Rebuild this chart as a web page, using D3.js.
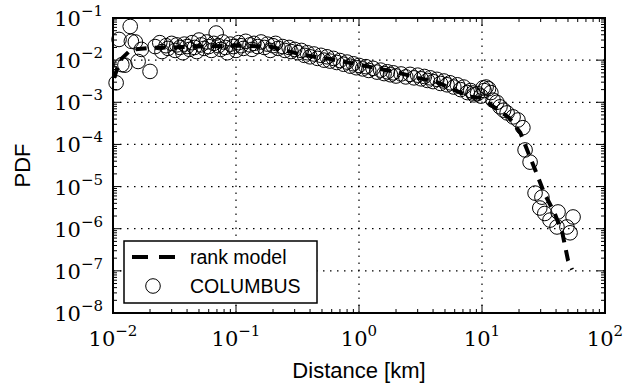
<!DOCTYPE html>
<html>
<head>
<meta charset="utf-8">
<script src="https://cdn.jsdelivr.net/npm/d3@7"></script>
<style>
  body { margin: 0; background: #fff; }
  svg { display: block; }
</style>
</head>
<body>
<svg id="chart" width="623" height="387"></svg>
<script>
// rank model curve (km, PDF)
const modelX = [0.0102, 0.0108, 0.0118, 0.0135, 0.0148, 0.02, 0.03, 0.05, 0.1, 0.19, 0.34, 0.6, 1.0, 2.0, 3.0, 4.3, 7.8, 10, 12.3, 16.6, 20.5, 23.8, 27.7, 32, 39, 45, 50, 54];
const modelY = [0.0038, 0.0062, 0.011, 0.016, 0.018, 0.0195, 0.02, 0.021, 0.022, 0.021, 0.0135, 0.0105, 0.0078, 0.0052, 0.0038, 0.0030, 0.00138, 0.00126, 0.00080, 0.00043, 0.00019, 6.3e-5, 2.1e-5, 7.1e-6, 2.3e-6, 8e-7, 1.8e-7, 1.07e-7];

// COLUMBUS data (km, PDF)
const dataX = [0.0106, 0.0112, 0.0118, 0.0125, 0.0138, 0.0141, 0.0152, 0.016, 0.017, 0.020,
  0.022, 0.024, 0.025, 0.027, 0.028, 0.030, 0.032, 0.033, 0.035, 0.037, 0.038, 0.040, 0.042, 0.044, 0.046, 0.048,
  0.050, 0.052, 0.055, 0.058, 0.060, 0.063, 0.066, 0.069, 0.072, 0.075, 0.078, 0.082, 0.085, 0.090, 0.095,
  0.100, 0.105, 0.11, 0.115, 0.12, 0.13, 0.135, 0.14, 0.15, 0.16, 0.17, 0.18, 0.19, 0.20, 0.21, 0.22,
  0.24, 0.25, 0.27, 0.28, 0.30, 0.32, 0.34, 0.36, 0.38, 0.40, 0.43, 0.46, 0.49, 0.52, 0.55, 0.58, 0.62,
  0.66, 0.70, 0.75, 0.80, 0.85, 0.90, 0.95, 1.0, 1.07, 1.14, 1.2, 1.3, 1.4, 1.5, 1.6, 1.7, 1.8, 1.9,
  2.0, 2.2, 2.4, 2.6, 2.8, 3.0, 3.2, 3.4, 3.6, 3.8, 4.0, 4.3, 4.6, 4.9, 5.2, 5.5, 5.9, 6.3, 6.7, 7.1,
  7.6, 8.1, 8.45, 8.6, 9.2, 9.8, 10.2, 10.4, 10.8, 11.3, 11.8, 12.3, 13.2, 14, 15, 16, 17.9, 19.6, 21.5,
  22.4, 24.6, 27, 29.5, 30.7, 32.4, 35.7, 40.7, 41.5, 49, 52, 55];
const dataY = [0.0029, 0.031, 0.0078, 0.0076, 0.063, 0.028, 0.027, 0.0093, 0.018, 0.0054,
  0.021, 0.026, 0.016, 0.022, 0.019, 0.025, 0.017, 0.023, 0.020, 0.015, 0.024, 0.021, 0.018, 0.026, 0.020, 0.016,
  0.030, 0.023, 0.019, 0.027, 0.021, 0.017, 0.025, 0.044, 0.022, 0.018, 0.027, 0.020, 0.015, 0.024, 0.021,
  0.017, 0.026, 0.022, 0.019, 0.028, 0.023, 0.018, 0.025, 0.021, 0.027, 0.020, 0.024, 0.017, 0.022, 0.025, 0.019,
  0.021, 0.017, 0.020, 0.016, 0.018, 0.015, 0.017, 0.013, 0.015, 0.012, 0.014, 0.011, 0.013, 0.010, 0.012, 0.0095, 0.011,
  0.0088, 0.0098, 0.0080, 0.0090, 0.0072, 0.0082, 0.0066, 0.0075, 0.0062, 0.0070, 0.0057, 0.0064, 0.0052, 0.0058, 0.0048, 0.0053, 0.0045, 0.0050,
  0.0042, 0.0047, 0.0040, 0.0046, 0.0038, 0.0044, 0.0036, 0.0041, 0.0033, 0.0038, 0.0031, 0.0035, 0.0028, 0.0032, 0.0026, 0.0029, 0.0023, 0.0026, 0.0020, 0.0023,
  0.0017, 0.0019, 0.00166, 0.0015, 0.0016, 0.0014, 0.0022, 0.0019, 0.0023, 0.0021, 0.0017, 0.00112, 0.0010, 7.8e-4, 6.5e-4, 5.6e-4, 4.5e-4, 3.8e-4, 2.5e-4,
  7.4e-5, 3.8e-5, 7e-6, 3.1e-6, 5.6e-6, 2.3e-6, 1.6e-6, 1.1e-6, 2.5e-6, 1.1e-6, 8e-7, 1.9e-6];

const xTickExp = [-2, -1, 0, 1, 2];
const yTickExp = [-8, -7, -6, -5, -4, -3, -2, -1];
const legendLabels = ["rank model", "COLUMBUS"];

const svg = d3.select("#chart");
const margin = { left: 113, top: 18, right: 18, bottom: 74 };
const W = 623, H = 387;
const x = d3.scaleLog().domain([1e-2, 1e2]).range([margin.left, W - margin.right]);
const y = d3.scaleLog().domain([1e-8, 1e-1]).range([H - margin.bottom, margin.top]);

const serif = "'DejaVu Serif', serif";
const sans = "'Liberation Sans', Arial, sans-serif";

// grid
const grid = svg.append("g")
    .attr("stroke", "#000")
    .attr("stroke-width", 1.2)
    .attr("stroke-dasharray", "1.5,5.5");
grid.selectAll("line.gx")
    .data(xTickExp.slice(1, -1))
    .join("line")
    .attr("class", "gx")
    .attr("x1", d => x(10 ** d)).attr("x2", d => x(10 ** d))
    .attr("y1", y.range()[0]).attr("y2", y.range()[1]);
grid.selectAll("line.gy")
    .data(yTickExp.slice(1, -1))
    .join("line")
    .attr("class", "gy")
    .attr("y1", d => y(10 ** d)).attr("y2", d => y(10 ** d))
    .attr("x1", x.range()[0]).attr("x2", x.range()[1]);

// ticks, inside on all four sides
const xMinor = [], yMinor = [];
for (let e = -2; e < 2; e++) for (let m = 2; m < 10; m++) xMinor.push(m * 10 ** e);
for (let e = -8; e < -1; e++) for (let m = 2; m < 10; m++) yMinor.push(m * 10 ** e);

const ticks = svg.append("g").attr("stroke", "#000").attr("stroke-width", 1);
const [yb, yt] = y.range(), [xl, xr] = x.range();
function xt(vals, len) {
    vals.forEach(v => {
        ticks.append("line").attr("x1", x(v)).attr("x2", x(v)).attr("y1", yb).attr("y2", yb - len);
        ticks.append("line").attr("x1", x(v)).attr("x2", x(v)).attr("y1", yt).attr("y2", yt + len);
    });
}
function yt_(vals, len) {
    vals.forEach(v => {
        ticks.append("line").attr("y1", y(v)).attr("y2", y(v)).attr("x1", xl).attr("x2", xl + len);
        ticks.append("line").attr("y1", y(v)).attr("y2", y(v)).attr("x1", xr).attr("x2", xr - len);
    });
}
xt(xTickExp.map(e => 10 ** e), 8);
xt(xMinor, 4);
yt_(yTickExp.map(e => 10 ** e), 8);
yt_(yMinor, 4);

// model line
const line = d3.line().x((d, i) => x(modelX[i])).y((d, i) => y(modelY[i]));
svg.append("path")
    .datum(modelX)
    .attr("d", line)
    .attr("fill", "none")
    .attr("stroke", "#000")
    .attr("stroke-width", 4)
    .attr("stroke-dasharray", "11,8");

// data circles
svg.append("g")
    .selectAll("circle")
    .data(dataX)
    .join("circle")
    .attr("cx", (d, i) => x(dataX[i]))
    .attr("cy", (d, i) => y(dataY[i]))
    .attr("r", 7.3)
    .attr("fill", "none")
    .attr("stroke", "#000")
    .attr("stroke-width", 1);

// frame
svg.append("rect")
    .attr("x", xl).attr("y", yt)
    .attr("width", xr - xl).attr("height", yb - yt)
    .attr("fill", "none").attr("stroke", "#000").attr("stroke-width", 2);

// tick labels
function powLabel(sel, e) {
    sel.append("tspan").text("10");
    sel.append("tspan").attr("dy", -10).attr("font-size", 15).text(e < 0 ? "\u2212" + (-e) : e);
}
svg.append("g").selectAll("text")
    .data(xTickExp)
    .join("text")
    .attr("x", d => x(10 ** d))
    .attr("y", 346)
    .attr("text-anchor", "middle")
    .attr("font-family", serif)
    .attr("font-size", 21)
    .each(function (d) { powLabel(d3.select(this), d); });
svg.append("g").selectAll("text")
    .data(yTickExp)
    .join("text")
    .attr("x", 103)
    .attr("y", d => y(10 ** d) + 8)
    .attr("text-anchor", "end")
    .attr("font-family", serif)
    .attr("font-size", 21)
    .each(function (d) { powLabel(d3.select(this), d); });

// axis titles
svg.append("text")
    .attr("x", (xl + xr) / 2).attr("y", 378)
    .attr("text-anchor", "middle")
    .attr("font-family", sans).attr("font-size", 22)
    .text("Distance [km]");
svg.append("text")
    .attr("transform", `translate(30,${(yt + yb) / 2}) rotate(-90)`)
    .attr("text-anchor", "middle")
    .attr("font-family", sans).attr("font-size", 22)
    .text("PDF");

// legend
const lg = svg.append("g");
lg.append("rect")
    .attr("x", 124).attr("y", 241).attr("width", 193).attr("height", 62)
    .attr("fill", "#fff").attr("stroke", "#000").attr("stroke-width", 1.5);
lg.append("line")
    .attr("x1", 132).attr("x2", 176).attr("y1", 257).attr("y2", 257)
    .attr("stroke", "#000").attr("stroke-width", 4).attr("stroke-dasharray", "16,11");
lg.append("circle")
    .attr("cx", 153).attr("cy", 286).attr("r", 7.3)
    .attr("fill", "none").attr("stroke", "#000").attr("stroke-width", 1);
lg.selectAll("text")
    .data(legendLabels)
    .join("text")
    .attr("x", 190)
    .attr("y", (d, i) => 264 + i * 29)
    .attr("font-family", sans).attr("font-size", 19.5)
    .text(d => d);
</script>
</body>
</html>
